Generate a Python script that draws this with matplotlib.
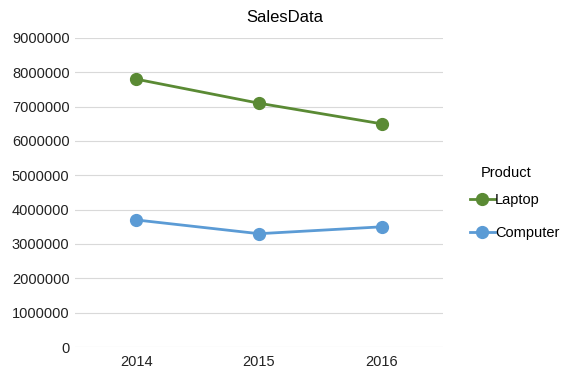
import matplotlib.pyplot as plt
import numpy as np

plt.rcParams['font.family'] = ['Liberation Sans', 'DejaVu Sans']

years = ['2014', '2015', '2016']
laptop = [7800000, 7100000, 6500000]
computer = [3700000, 3300000, 3500000]
yticks = [0, 1000000, 2000000, 3000000, 4000000, 5000000, 6000000, 7000000, 8000000, 9000000]

fig = plt.figure(figsize=(5.73, 3.82), dpi=100)
ax = fig.add_axes([0.131, 0.0916, 0.642, 0.809])

x = np.arange(len(years))
ax.plot(x, laptop, color='#5a8a34', lw=2, marker='o', ms=8.5, label='Laptop')
ax.plot(x, computer, color='#5b9bd5', lw=2, marker='o', ms=8.5, label='Computer')

ax.set_xlim(-0.5, 2.5)
ax.set_ylim(0, 9000000)
ax.set_yticks(yticks)
ax.set_yticklabels([str(v) for v in yticks])
ax.set_xticks(x)
ax.set_xticklabels(years)
ax.tick_params(length=0, labelsize=10.5, colors='#222222', pad=6)
ax.tick_params(axis='y', pad=4)
ax.grid(axis='y', color='#d9d9d9', lw=0.8)
ax.set_axisbelow(True)
for s in ax.spines.values():
    s.set_visible(False)

fig.text(0.497, 1 - 17 / 382, 'SalesData', fontsize=12, ha='center', va='center')

# legend
fig.text(506 / 573, 1 - 173 / 382, 'Product', fontsize=10.5, ha='center', va='center')
leg = fig.legend(loc='center left', bbox_to_anchor=(470 / 573, 1 - 216.5 / 382), frameon=False,
                 fontsize=10.5, handlelength=1.7, handletextpad=0.0, labelspacing=1.3,
                 borderaxespad=0, borderpad=0)

fig.savefig('out.png', dpi=100)
